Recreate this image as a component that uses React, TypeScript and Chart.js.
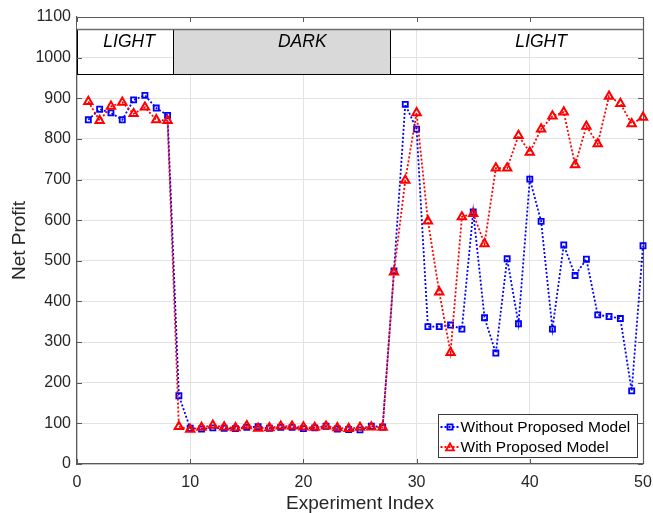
import React, { useEffect, useRef } from 'react';
import { Chart, registerables } from 'chart.js';

Chart.register(...registerables);

const experimentIndex = [
  1, 2, 3, 4, 5, 6, 7, 8, 9, 10, 11, 12, 13, 14, 15, 16, 17, 18, 19, 20, 21, 22, 23, 24, 25,
  26, 27, 28, 29, 30, 31, 32, 33, 34, 35, 36, 37, 38, 39, 40, 41, 42, 43, 44, 45, 46, 47, 48, 49, 50,
];
const withoutModel = [
  847, 873, 864, 847, 896, 907, 876, 858, 168, 88, 86, 89, 88, 87, 90, 92, 88, 90, 90, 87, 89, 93, 86, 85, 84,
  93, 91, 475, 885, 824, 338, 338, 342, 332, 620, 360, 273, 505, 345, 701, 597, 332, 539, 464, 504, 367, 363, 358, 180, 537,
];
const withModel = [
  892, 845, 880, 890, 862, 878, 847, 845, 92, 85, 90, 95, 91, 89, 94, 88, 89, 93, 93, 91, 90, 93, 89, 87, 90,
  91, 90, 472, 698, 864, 598, 423, 274, 608, 616, 542, 728, 728, 808, 767, 824, 856, 866, 736, 831, 788, 905, 887, 837, 853,
];
const seriesNames = ['Without Proposed Model', 'With Proposed Model'];
const xTickValues = [0, 10, 20, 30, 40, 50];
const yTickValues = [0, 100, 200, 300, 400, 500, 600, 700, 800, 900, 1000, 1100];
const phaseLabels = ['LIGHT', 'DARK', 'LIGHT'];
const phaseBounds = [0, 8.45, 27.65, 50];
const phaseLabelAt = [4.6, 19.9, 41];
const phaseDark = [false, true, false];
const bandRange = [960, 1070];
const bandLabelLevel = 1037;

const FONT = '"Liberation Sans", Arial, Helvetica, sans-serif';
const AXIS_COLOR = '#5a5a5a';

function drawSquare(ctx: CanvasRenderingContext2D, x: number, y: number, half: number) {
  ctx.beginPath();
  ctx.rect(x - half, y - half, half * 2, half * 2);
  ctx.stroke();
}
function drawTriangle(ctx: CanvasRenderingContext2D, x: number, y: number, r: number) {
  ctx.beginPath();
  for (let k = 0; k < 3; k++) {
    const ang = (k * 2 * Math.PI) / 3;
    const px = x + Math.sin(ang) * r;
    const py = y - Math.cos(ang) * r;
    if (k === 0) ctx.moveTo(px, py);
    else ctx.lineTo(px, py);
  }
  ctx.closePath();
  ctx.stroke();
}

const framePlugin = {
  id: 'frameDecor',
  beforeDatasetsDraw(chart: any) {
    const { ctx, chartArea: a, scales } = chart;
    const x = scales.x;
    const y = scales.y;
    ctx.save();
    const yTop = y.getPixelForValue(yTickValues[yTickValues.length - 1]);
    const yB1 = Math.round(y.getPixelForValue(bandRange[1])) + 0.5;
    const yB0 = Math.round(y.getPixelForValue(bandRange[0])) + 0.5;
    ctx.fillStyle = '#ffffff';
    ctx.fillRect(a.left, yTop, a.right - a.left, yB1 - yTop);
    for (let i = 0; i < phaseLabels.length; i++) {
      const x0 = Math.round(x.getPixelForValue(phaseBounds[i])) + 0.5;
      const x1 = Math.round(x.getPixelForValue(phaseBounds[i + 1])) + 0.5;
      if (phaseDark[i]) {
        ctx.fillStyle = '#d9d9d9';
        ctx.fillRect(x0, yB1, x1 - x0, yB0 - yB1);
      }
    }
    ctx.strokeStyle = '#000000';
    ctx.lineWidth = 1;
    for (let i = 0; i < phaseLabels.length; i++) {
      const x0 = Math.round(x.getPixelForValue(phaseBounds[i])) + 0.5;
      const x1 = Math.round(x.getPixelForValue(phaseBounds[i + 1])) + 0.5;
      ctx.strokeRect(x0, yB1, x1 - x0, yB0 - yB1);
    }
    ctx.strokeStyle = '#6e6e6e';
    ctx.lineWidth = 1.6;
    ctx.beginPath();
    ctx.moveTo(a.left, yB1);
    ctx.lineTo(a.right, yB1);
    ctx.stroke();
    ctx.fillStyle = '#000000';
    ctx.font = `italic 17.5px ${FONT}`;
    ctx.textAlign = 'center';
    ctx.textBaseline = 'middle';
    for (let i = 0; i < phaseLabels.length; i++) {
      ctx.fillText(phaseLabels[i], x.getPixelForValue(phaseLabelAt[i]), y.getPixelForValue(bandLabelLevel));
    }
    ctx.strokeStyle = AXIS_COLOR;
    ctx.lineWidth = 1.2;
    ctx.beginPath();
    const top = Math.round(a.top) + 0.5;
    const right = Math.round(a.right) + 0.5;
    ctx.moveTo(a.left, top);
    ctx.lineTo(right, top);
    ctx.lineTo(right, a.bottom);
    ctx.stroke();
    const tl = 5;
    ctx.lineWidth = 1;
    ctx.beginPath();
    for (const v of xTickValues) {
      const px = Math.round(x.getPixelForValue(v)) + 0.5;
      ctx.moveTo(px, a.bottom);
      ctx.lineTo(px, a.bottom - tl);
      ctx.moveTo(px, a.top);
      ctx.lineTo(px, a.top + tl);
    }
    for (const v of yTickValues) {
      const py = Math.round(y.getPixelForValue(v)) + 0.5;
      ctx.moveTo(a.left, py);
      ctx.lineTo(a.left + tl, py);
      ctx.moveTo(a.right, py);
      ctx.lineTo(a.right - tl, py);
    }
    ctx.stroke();
    ctx.restore();
  },
  afterDatasetsDraw(chart: any) {
    const { ctx, chartArea: a } = chart;
    ctx.save();
    const left = Math.round(a.right - 205) + 0.5;
    const top = Math.round(a.bottom - 50) + 0.5;
    const w = 199;
    const h = 43;
    ctx.fillStyle = '#ffffff';
    ctx.fillRect(left, top, w, h);
    ctx.strokeStyle = '#3a3a3a';
    ctx.lineWidth = 1;
    ctx.strokeRect(left, top, w, h);
    const colors = ['#0000ff', '#ff0000'];
    for (let i = 0; i < 2; i++) {
      const ry = top + 12.5 + i * 20;
      ctx.strokeStyle = colors[i];
      ctx.lineWidth = 1.8;
      ctx.setLineDash([2, 2]);
      ctx.beginPath();
      ctx.moveTo(left + 2, ry);
      ctx.lineTo(left + 21, ry);
      ctx.stroke();
      ctx.setLineDash([]);
      if (i === 0) drawSquare(ctx, left + 11.5, ry, 2.6);
      else drawTriangle(ctx, left + 11.5, ry + 1, 4.6);
      ctx.fillStyle = '#000000';
      ctx.font = `15.5px ${FONT}`;
      ctx.textAlign = 'left';
      ctx.textBaseline = 'middle';
      ctx.fillText(seriesNames[i], left + 22, ry + 0.5);
    }
    ctx.restore();
  },
};

export default function App() {
  const canvasRef = useRef<HTMLCanvasElement | null>(null);

  useEffect(() => {
    document.body.style.margin = '0';
    const canvas = canvasRef.current;
    if (!canvas) return;
    const chart = new Chart(canvas, {
      type: 'line',
      data: {
        datasets: [
          {
            label: seriesNames[0],
            data: experimentIndex.map((xv, i) => ({ x: xv, y: withoutModel[i] })),
            borderColor: '#0000ff',
            borderWidth: 1.8,
            borderDash: [2, 2],
            pointStyle: 'rect',
            pointRadius: 3.6,
            pointBorderWidth: 1.8,
            pointBorderColor: '#0000ff',
            pointBackgroundColor: 'rgba(255,255,255,0)',
            fill: false,
            tension: 0,
            clip: false,
            order: 1,
          },
          {
            label: seriesNames[1],
            data: experimentIndex.map((xv, i) => ({ x: xv, y: withModel[i] })),
            borderColor: '#ff0000',
            borderWidth: 1.8,
            borderDash: [2, 2],
            pointStyle: 'triangle',
            pointRadius: 4.8,
            pointBorderWidth: 2,
            pointBorderColor: '#ff0000',
            pointBackgroundColor: 'rgba(255,255,255,0)',
            fill: false,
            tension: 0,
            clip: false,
            order: 0,
          },
        ],
      },
      options: {
        responsive: false,
        animation: false,
        layout: { padding: { top: 17, right: 10, left: 0, bottom: 0 } },
        plugins: {
          legend: { display: false },
          tooltip: { enabled: false },
        },
        scales: {
          x: {
            type: 'linear',
            min: 0,
            max: 50,
            afterBuildTicks: (s: any) => {
              s.ticks = xTickValues.map((v) => ({ value: v }));
            },
            afterFit: (s: any) => {
              s.height = 49;
              s.paddingLeft = 0;
              s.paddingRight = 0;
            },
            ticks: {
              font: { family: FONT, size: 16 },
              color: '#262626',
              padding: 9,
              maxRotation: 0,
              callback: (v: any) => String(v),
            },
            grid: { color: '#e3e3e3', drawTicks: false },
            border: { color: AXIS_COLOR, width: 1.2 },
            title: {
              display: true,
              text: 'Experiment Index',
              font: { family: FONT, size: 19, lineHeight: 1 },
              color: '#262626',
              padding: { top: 0, bottom: 0 },
            },
          },
          y: {
            type: 'linear',
            min: 0,
            max: 1100,
            afterBuildTicks: (s: any) => {
              s.ticks = yTickValues.map((v) => ({ value: v }));
            },
            afterFit: (s: any) => {
              s.width = 77;
              s.paddingTop = 0;
              s.paddingBottom = 0;
            },
            ticks: {
              font: { family: FONT, size: 16 },
              color: '#262626',
              padding: 6,
              callback: (v: any) => String(v),
            },
            grid: { color: '#e3e3e3', drawTicks: false },
            border: { color: AXIS_COLOR, width: 1.2 },
            title: {
              display: true,
              text: 'Net Profit',
              font: { family: FONT, size: 19, lineHeight: 1 },
              color: '#262626',
              padding: { top: 10, bottom: 0 },
            },
          },
        },
      },
      plugins: [framePlugin],
    });
    return () => chart.destroy();
  }, []);

  return (
    <div style={{ position: 'absolute', left: 0, top: 0, width: 653, height: 513 }}>
      <canvas ref={canvasRef} width={653} height={513} style={{ width: 653, height: 513, display: 'block' }} />
    </div>
  );
}
